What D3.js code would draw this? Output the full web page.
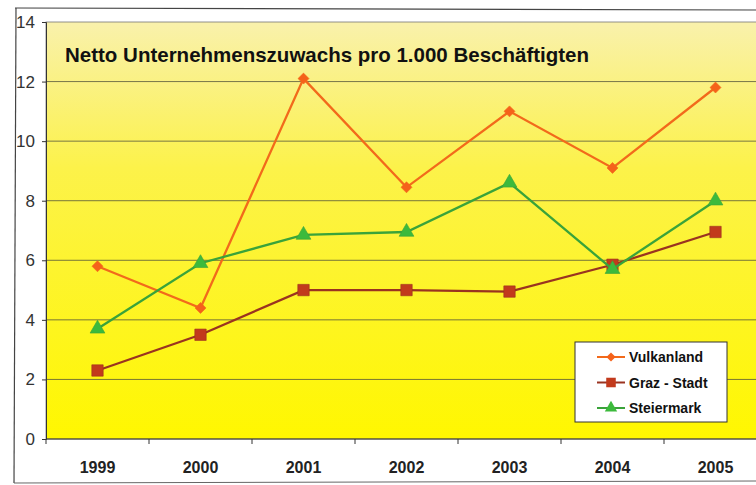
<!DOCTYPE html>
<html>
<head>
<meta charset="utf-8">
<script src="https://cdn.jsdelivr.net/npm/d3@7"></script>
<style>
body{margin:0;background:#fff;}
svg{display:block;font-family:Arial,"Liberation Sans",sans-serif;}
</style>
</head>
<body>
<svg id="svg" width="756" height="485"></svg>
<script>
const years=["1999","2000","2001","2002","2003","2004","2005"];
const vulkanland=[5.8,4.4,12.1,8.45,11.0,9.1,11.8];
const grazStadt=[2.3,3.5,5.0,5.0,4.95,5.85,6.95];
const steiermark=[3.7,5.9,6.85,6.95,8.6,5.7,8.0];
const yTicks=[0,2,4,6,8,10,12,14];
const titleText="Netto Unternehmenszuwachs pro 1.000 Beschäftigten";

const plotLeft=46, plotTop=22, plotBottom=439, plotRight=767;

var svg=d3.select("#svg");

//gradient for the plot area (pale at the top, strong yellow below)
var defs=svg.append("defs");
var grad=defs.append("linearGradient").attr("id","bg").attr("x1",0).attr("y1",0).attr("x2",0).attr("y2",1);
grad.append("stop").attr("offset","0%").attr("stop-color","#f9f1ac");
grad.append("stop").attr("offset","35%").attr("stop-color","#fcf24a");
grad.append("stop").attr("offset","100%").attr("stop-color","#fff700");

//outer frame
svg.append("line").attr("x1",15).attr("y1",8).attr("x2",756).attr("y2",10).attr("stroke","#444").attr("stroke-width",1.2);
svg.append("line").attr("x1",16).attr("y1",8).attr("x2",14).attr("y2",483).attr("stroke","#444").attr("stroke-width",1.2);
svg.append("line").attr("x1",14).attr("y1",483).attr("x2",756).attr("y2",481).attr("stroke","#666").attr("stroke-width",1);

var x=d3.scalePoint().domain(years).range([plotLeft,plotRight]).padding(0.5);
var y=d3.scaleLinear().domain([0,14]).range([plotBottom,plotTop]);

svg.append("rect")
    .attr("x",plotLeft).attr("y",plotTop)
    .attr("width",plotRight-plotLeft).attr("height",plotBottom-plotTop)
    .attr("fill","url(#bg)")
    .attr("stroke","#777").attr("stroke-width",0.8);

//gridlines
svg.append("g").selectAll("line")
    .data(yTicks.filter(d=>d>0&&d<14)).enter().append("line")
        .attr("x1",plotLeft).attr("x2",plotRight)
        .attr("y1",d=>y(d)).attr("y2",d=>y(d))
        .attr("stroke","#55553a").attr("stroke-width",0.8);

//y axis
var yAxis=svg.append("g").attr("transform","translate("+plotLeft+",0)")
    .call(d3.axisLeft(y).tickValues(yTicks).tickSize(4).tickPadding(7));
yAxis.select(".domain").attr("stroke","#333");
yAxis.selectAll("line").attr("stroke","#333");
yAxis.selectAll("text").style("font-size","17px").attr("fill","#333");

//x axis with ticks between categories
var xAxis=svg.append("g").attr("transform","translate(0,"+plotBottom+")");
xAxis.append("line").attr("x1",plotLeft).attr("x2",plotRight).attr("stroke","#333");
xAxis.selectAll(".tk")
    .data(d3.range(years.length+1)).enter().append("line")
        .attr("class","tk")
        .attr("x1",i=>plotLeft+i*x.step()).attr("x2",i=>plotLeft+i*x.step())
        .attr("y1",0).attr("y2",5).attr("stroke","#333");
xAxis.selectAll("text")
    .data(years).enter().append("text")
        .attr("x",d=>x(d)).attr("y",34)
        .attr("text-anchor","middle")
        .style("font-size","16px").style("font-weight","bold").attr("fill","#222")
        .text(d=>d);

//title
svg.append("text")
    .attr("x",65).attr("y",62)
    .style("font-size","20.5px").style("font-weight","bold").attr("fill","#111")
    .text(titleText);

var series=[
    {name:"Vulkanland",values:vulkanland,line:"#f26a1b",fill:"#f5621a",symbol:d3.symbolSquare,size:60,rot:45},
    {name:"Graz - Stadt",values:grazStadt,line:"#9a3320",fill:"#c23a1c",symbol:d3.symbolSquare,size:130,rot:0},
    {name:"Steiermark",values:steiermark,line:"#3aa33a",fill:"#3cba3c",symbol:d3.symbolTriangle,size:95,rot:0}
];

var line=d3.line().x((d,i)=>x(years[i])).y(d=>y(d));

series.forEach(s=>{
    svg.append("path")
        .datum(s.values)
        .attr("d",line)
        .attr("fill","none")
        .attr("stroke",s.line)
        .attr("stroke-width",2.3);
    svg.append("g").selectAll("path")
        .data(s.values).enter().append("path")
            .attr("d",d3.symbol().type(s.symbol).size(s.size))
            .attr("transform",(d,i)=>"translate("+x(years[i])+","+y(d)+") rotate("+s.rot+")")
            .attr("fill",s.fill)
            .attr("stroke",s.line).attr("stroke-width",0.6);
});

//legend
var legend=svg.append("g").attr("transform","translate(575,342)");
legend.append("rect").attr("width",152).attr("height",80)
    .attr("fill","#fff").attr("stroke","#333").attr("stroke-width",1);
var items=legend.selectAll("g.item")
    .data(series).enter().append("g")
        .attr("class","item")
        .attr("transform",(d,i)=>"translate(0,"+(15+i*25.5)+")");
items.append("line").attr("x1",22).attr("x2",50).attr("y1",0).attr("y2",0)
    .attr("stroke",d=>d.line).attr("stroke-width",2);
items.append("path")
    .attr("d",d=>d3.symbol().type(d.symbol).size(d.size*0.7)())
    .attr("transform",d=>"translate(36,0) rotate("+d.rot+")")
    .attr("fill",d=>d.fill);
items.append("text").attr("x",54).attr("y",5)
    .style("font-size","14px").style("font-weight","bold").attr("fill","#111")
    .text(d=>d.name);
</script>
</body>
</html>
